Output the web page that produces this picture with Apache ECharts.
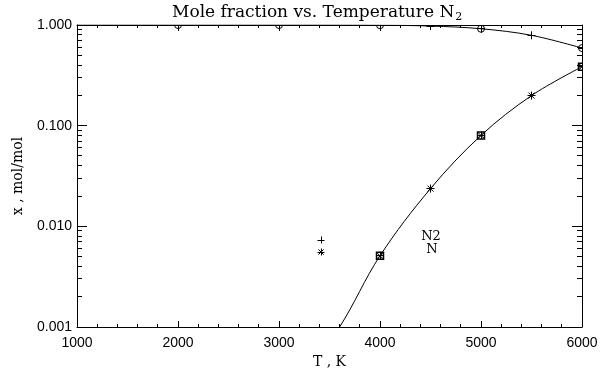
<!DOCTYPE html>
<html><head><meta charset="utf-8">
<script src="https://cdn.jsdelivr.net/npm/echarts@6/dist/echarts.min.js"></script>
<style>html,body{margin:0;padding:0;background:#fff}#c{width:602px;height:374px}</style>
</head><body><div id="c"></div>
<script>
// ---- data ----
const n2Temps = [2000, 3000, 4000, 4500, 5000, 5500, 6000];        // "+" markers
const n2Values = [1.0, 1.0, 0.995, 0.976, 0.918, 0.79, 0.59];
const n2RefTemps = [2000, 3000, 4000, 5000, 6000];                   // circle markers
const n2RefValues = [1.0, 1.0, 0.995, 0.918, 0.59];
const nTemps = [4000, 4500, 5000, 5500, 6000];                       // "*" markers
const nValues = [0.0051, 0.0237, 0.080, 0.199, 0.385];
const nRefTemps = [4000, 5000, 6000];                                // square markers
const nRefValues = [0.0051, 0.080, 0.385];
const n2CurveT = [1000, 2000, 3000, 4000, 4500, 5000, 5500, 6000];  // fitted line
const n2CurveV = [1.0, 1.0, 1.0, 0.995, 0.976, 0.918, 0.79, 0.59];
const nCurveT = [3450, 3600, 4000, 4500, 5000, 5500, 6000];
const nCurveV = [0.0007, 0.001, 0.0051, 0.0237, 0.080, 0.199, 0.385];
const xMin = 1000, xMax = 6000, xStep = 1000, xMinorStep = 200;
const yMin = 0.001, yMax = 1.0;
const yMajorTicks = [0.001, 0.01, 0.1, 1.0];
const titleMain = 'Mole fraction vs. Temperature N';
const titleSub = '2';
const xName = 'T , K';
const yName = 'x , mol/mol';
const legendLabels = ['N2', 'N'];

const yMinor = [];
for (let d = -3; d < 0; d++) for (let m = 2; m <= 9; m++) yMinor.push(m * Math.pow(10, d));
const xMajor = [], xMinorT = [];
for (let t = xMin; t <= xMax; t += xMinorStep) ((t - xMin) % xStep === 0 ? xMajor : xMinorT).push(t);

const pair = (xs, ys) => xs.map((x, i) => [x, ys[i]]);
const K = '#000';
const crisp = v => Math.round(v - 0.5) + 0.5;

function ln(x1, y1, x2, y2, w) {
  return {type: 'line', shape: {x1, y1, x2, y2}, style: {stroke: K, lineWidth: w || 1}, silent: true};
}
function plusShape(p, r) { return [ln(p[0]-r, crisp(p[1]), p[0]+r, crisp(p[1])), ln(crisp(p[0]), p[1]-r, crisp(p[0]), p[1]+r)]; }
function starShape(p, r) {
  const d = r * 0.75;
  return [ln(p[0]-r, crisp(p[1]), p[0]+r, crisp(p[1])), ln(crisp(p[0]), p[1]-r, crisp(p[0]), p[1]+r),
          ln(p[0]-d, p[1]-d, p[0]+d, p[1]+d), ln(p[0]-d, p[1]+d, p[0]+d, p[1]-d)];
}
function markerSeries(data, kind) {
  return {
    type: 'custom', clip: true, data: data, z: 5,
    renderItem: function (params, api) {
      const p = api.coord([api.value(0), api.value(1)]);
      let children;
      if (kind === 'plus') children = plusShape(p, 4);
      else if (kind === 'star') children = starShape(p, 4);
      else if (kind === 'circle') children = [{type: 'circle', shape: {cx: p[0], cy: p[1], r: 3.5}, style: {fill: 'none', stroke: K, lineWidth: 1}}];
      else children = [{type: 'rect', shape: {x: p[0]-3.5, y: p[1]-3.5, width: 7, height: 7}, style: {fill: 'none', stroke: K, lineWidth: 1.5}}];
      return {type: 'group', children};
    }
  };
}

const chart = echarts.init(document.getElementById('c'), null, {renderer: 'canvas'});
const sans = 'Liberation Sans';
const serif = 'DejaVu Serif';
chart.setOption({
  animation: false,
  backgroundColor: '#fff',
  grid: {left: 77, right: 20, top: 25, bottom: 47, containLabel: false},
  xAxis: [{
    type: 'value', min: xMin, max: xMax, interval: xStep, position: 'bottom',
    name: xName, nameLocation: 'middle', nameGap: 21,
    nameTextStyle: {fontFamily: serif, fontSize: 14, color: K},
    axisLine: {show: true, lineStyle: {color: K, width: 1}},
    axisTick: {show: false},
    axisLabel: {margin: 9, fontFamily: sans, fontSize: 14, color: K, formatter: v => String(v)},
    splitLine: {show: false}
  }, {
    type: 'value', min: xMin, max: xMax, interval: xStep, position: 'top',
    axisLine: {show: true, lineStyle: {color: K, width: 1}},
    axisTick: {show: false}, axisLabel: {show: false}, splitLine: {show: false}
  }],
  yAxis: [{
    type: 'log', logBase: 10, min: yMin, max: yMax, position: 'left',
    name: yName, nameLocation: 'middle', nameGap: 52,
    nameTextStyle: {fontFamily: serif, fontSize: 14, color: K},
    axisLine: {show: true, lineStyle: {color: K, width: 1}},
    axisTick: {show: false},
    axisLabel: {margin: 5, fontFamily: sans, fontSize: 14, color: K, formatter: v => Number(v).toFixed(3)},
    splitLine: {show: false}
  }, {
    type: 'log', logBase: 10, min: yMin, max: yMax, position: 'right',
    axisLine: {show: true, lineStyle: {color: K, width: 1}},
    axisTick: {show: false}, axisLabel: {show: false}, splitLine: {show: false}
  }],
  series: [
    {type: 'line', data: pair(n2CurveT, n2CurveV), smooth: 0.35, symbol: 'none', clip: true,
     lineStyle: {color: K, width: 1}},
    {type: 'line', data: pair(nCurveT, nCurveV), smooth: 0.35, symbol: 'none', clip: true,
     lineStyle: {color: K, width: 1}},
    markerSeries(pair(n2Temps, n2Values), 'plus'),
    markerSeries(pair(n2RefTemps, n2RefValues), 'circle'),
    markerSeries(pair(nTemps, nValues), 'star'),
    markerSeries(pair(nRefTemps, nRefValues), 'square')
  ]
});

// ticks (drawn through the chart's own scales) + title + legend
const px = (x, y) => chart.convertToPixel({gridIndex: 0}, [x, y]);
const tickEls = [];
const yBot = px(xMin, yMin)[1], yTop = px(xMin, yMax)[1];
const xL = px(xMin, yMin)[0], xR = px(xMax, yMin)[0];
xMajor.forEach(t => { const x = crisp(px(t, yMin)[0]); tickEls.push(ln(x, yBot, x, yBot - 6), ln(x, yTop, x, yTop + 6)); });
xMinorT.forEach(t => { const x = crisp(px(t, yMin)[0]); tickEls.push(ln(x, yBot, x, yBot - 3), ln(x, yTop, x, yTop + 3)); });
yMajorTicks.forEach(v => { const y = crisp(px(xMin, v)[1]); tickEls.push(ln(xL, y, xL + 10, y), ln(xR, y, xR - 10, y)); });
yMinor.forEach(v => { const y = crisp(px(xMin, v)[1]); tickEls.push(ln(xL, y, xL + 5, y), ln(xR, y, xR - 5, y)); });

chart.setOption({
  graphic: [
    {type: 'group', children: tickEls},
    {type: 'text', left: 172, top: 4, style: {
      text: '{m|' + titleMain + '}{s|' + titleSub + '}',
      rich: {m: {fontFamily: serif, fontSize: 17, fill: K},
             s: {fontFamily: serif, fontSize: 11, fill: K, padding: [10, 0, 0, 1]}}
    }},
    {type: 'group', children: plusShape([321, 240], 3.5)},
    {type: 'group', children: starShape([321, 252], 3.5)},
    {type: 'text', x: 431, y: 237, style: {text: legendLabels[0], fontFamily: serif, fontSize: 13, fill: K, align: 'center', verticalAlign: 'middle'}},
    {type: 'text', x: 432, y: 250, style: {text: legendLabels[1], fontFamily: serif, fontSize: 13, fill: K, align: 'center', verticalAlign: 'middle'}}
  ]
});
</script></body></html>
